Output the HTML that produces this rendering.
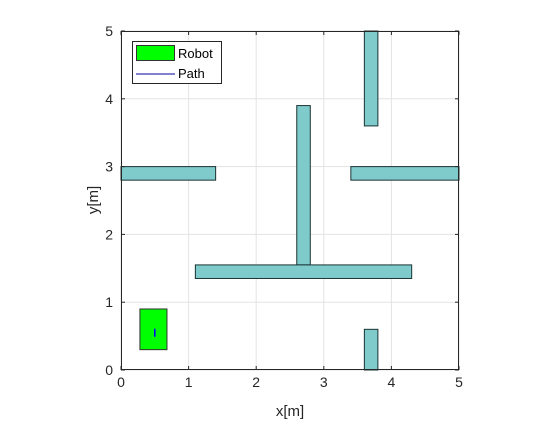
<!DOCTYPE html>
<html><head><meta charset="utf-8"><style>
body{margin:0;background:#fff;width:560px;height:420px;overflow:hidden;font-family:"Liberation Sans",sans-serif}
</style></head><body>
<svg id="chart" width="560" height="420" xmlns="http://www.w3.org/2000/svg" font-family="Liberation Sans, sans-serif"></svg>
<script>
const xTicks=[0,1,2,3,4,5];
const yTicks=[0,1,2,3,4,5];
const obstacles=[[0,2.8,1.4,3.0],[3.4,2.8,5,3.0],[3.6,3.6,3.8,5],[2.6,1.55,2.8,3.9],[1.1,1.35,4.3,1.55],[3.6,0,3.8,0.6]];
const robot=[0.28,0.3,0.68,0.9];
const pathX=[0.5,0.5];
const pathY=[0.49,0.61];
const X0=121,X1=459,Y0=370,Y1=31;
const sx=v=>X0+(X1-X0)*v/5, sy=v=>Y0-(Y0-Y1)*v/5;
const svg=document.getElementById('chart');
const NS='http://www.w3.org/2000/svg';
function mk(t,a,txt){const e=document.createElementNS(NS,t);for(const k in a)e.setAttribute(k,a[k]);if(txt!==undefined)e.textContent=txt;svg.appendChild(e);return e;}
let e=mk('rect',{x:X0,y:Y1,width:X1-X0,height:Y0-Y1,fill:'#fff'});


xTicks.forEach(t=>{let g=mk('line',{x1:sx(t),x2:sx(t),y1:Y1,y2:Y0,stroke:'#e3e3e3','stroke-width':1});


let l=mk('text',{x:sx(t),y:Y0+17,'text-anchor':'middle','font-size':14,fill:'#262626'},t);

});
yTicks.forEach(t=>{let g=mk('line',{x1:X0,x2:X1,y1:sy(t),y2:sy(t),stroke:'#e3e3e3','stroke-width':1});


let l=mk('text',{x:X0-8,y:sy(t)+5,'text-anchor':'end','font-size':14,fill:'#262626'},t);

});
obstacles.forEach(o=>{let r=mk('rect',{x:sx(o[0]),y:sy(o[3]),width:sx(o[2])-sx(o[0]),height:sy(o[1])-sy(o[3]),fill:'#7fcaca',stroke:'#1a3333','stroke-width':1});

});
e=mk('rect',{x:sx(robot[0]),y:sy(robot[3]),width:sx(robot[2])-sx(robot[0]),height:sy(robot[1])-sy(robot[3]),fill:'#00ff00',stroke:'#333','stroke-width':1});


e=mk('polyline',{points:pathX.map((x,i)=>sx(x)+','+sy(pathY[i])).join(' '),fill:'none',stroke:'#0000ff','stroke-width':1.5});


e=mk('rect',{x:X0+0.5,y:Y1+0.5,width:X1-X0-1,height:Y0-Y1-1,fill:'none',stroke:'#262626','stroke-width':1});


xTicks.forEach(t=>{mk('line',{x1:sx(t),x2:sx(t),y1:Y0,y2:Y0-4,stroke:'#262626'});mk('line',{x1:sx(t),x2:sx(t),y1:Y1,y2:Y1+4,stroke:'#262626'});});
yTicks.forEach(t=>{mk('line',{x1:X0,x2:X0+4,y1:sy(t),y2:sy(t),stroke:'#262626'});mk('line',{x1:X1,x2:X1-4,y1:sy(t),y2:sy(t),stroke:'#262626'});});
e=mk('text',{x:290,y:416,'text-anchor':'middle','font-size':15,fill:'#262626'},'x[m]');


e=mk('text',{x:0,y:0,'text-anchor':'middle','font-size':15,fill:'#262626',transform:'translate(98,200) rotate(-90)'},'y[m]');


e=mk('rect',{x:132.5,y:41.5,width:89,height:42,fill:'#fff',stroke:'#262626'});


e=mk('rect',{x:136.5,y:45.5,width:38,height:15,fill:'#00ff00',stroke:'#333'});


e=mk('text',{x:178,y:58,'font-size':13,fill:'#000'},'Robot');


e=mk('line',{x1:136,x2:175,y1:74,y2:74,stroke:'#0000aa'});


e=mk('text',{x:178,y:78,'font-size':13,fill:'#000'},'Path');


</script>
</body></html>
